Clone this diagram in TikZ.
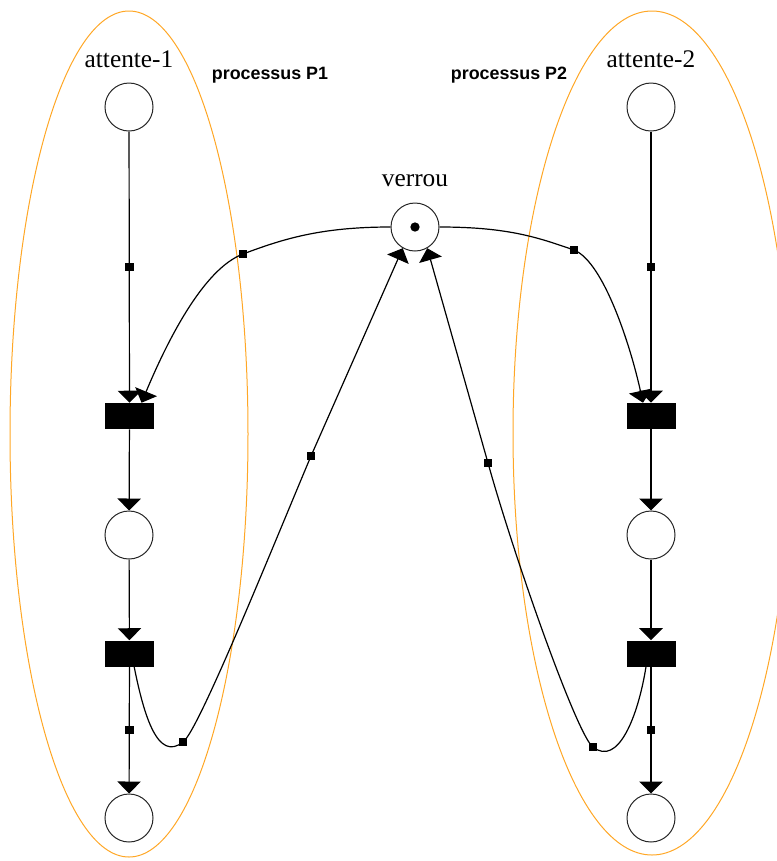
\documentclass[tikz,border=0pt]{standalone}
\usepackage{fontspec}
\setmainfont{Liberation Serif}
\newfontfamily\procfont{Liberation Sans}
\usetikzlibrary{arrows.meta, positioning}
\usepackage{xcolor}
\definecolor{orng}{HTML}{FFA726}
\tikzset{
  place/.style = {circle, draw=black!85, line width=0.75pt,
                  minimum size=36pt, inner sep=0pt},
  trans/.style = {rectangle, fill=black, minimum width=36.75pt,
                  minimum height=19.5pt, inner sep=0pt},
  tok/.style   = {circle, fill=black, minimum size=7pt, inner sep=0pt},
  hnd/.style   = {rectangle, fill=black, minimum size=6.5pt, inner sep=0pt},
  flow/.style  = {-{Triangle[width=17.5pt, length=9pt]}, line width=0.9pt},
  lbl/.style   = {font=\fontsize{19}{21}\selectfont, anchor=base, inner sep=0pt},
  proc/.style  = {font=\procfont\bfseries\fontsize{13.4}{15}\selectfont,
                  anchor=base, inner sep=0pt},
  zone/.style  = {draw=orng, line width=0.75pt},
}

\begin{document}
\begin{tikzpicture}[x=0.75pt, y=-0.75pt]

  \useasboundingbox (0,0) rectangle (777,861);
  \clip (0,0) rectangle (777,861);

  % ── process zones
  \draw[zone] (129,434) ellipse [x radius=119, y radius=423];
  \draw[zone] (652,433) ellipse [x radius=139, y radius=422];

  % ── process P1
  \node[place] (p1) at (129,107) {};
  \node[trans] (t1) at (129.5,416) {};
  \node[place] (p2) at (129,535) {};
  \node[trans] (t2) at (129.5,653.5) {};
  \node[place] (p3) at (129,818) {};

  % ── process P2
  \node[place] (q1) at (651,107) {};
  \node[trans] (t3) at (651,416) {};
  \node[place] (q2) at (651,535) {};
  \node[trans] (t4) at (651,653.5) {};
  \node[place] (q3) at (651,818) {};

  % ── shared lock
  \node[place] (v) at (415,227) {};
  \node[tok] (vtok) at (v.center) {};

  % ── labels
  \node[lbl]  (lp1) at (129,67) {attente-1};
  \node[lbl]  (lq1) at (651,67) {attente-2};
  \node[lbl]  (lv)  at (415,186) {verrou};
  \node[proc] (pr1) at (270,79) {processus P1};
  \node[proc] (pr2) at (509,79) {processus P2};

  % ── arc handles
  \node[hnd] (h3) at (243,254) {};
  \node[hnd] (h4) at (574,250) {};
  \node[hnd] (h5) at (183,742) {};
  \node[hnd] (h6) at (593,747) {};
  \node[hnd] (h7) at (311,456) {};
  \node[hnd] (h8) at (488,463) {};

  % ── arcs inside each process
  \draw[flow] (p1) -- node[hnd] (h1) {} (t1);
  \draw[flow] (t1) -- (p2);
  \draw[flow] (p2) -- (t2);
  \draw[flow] (t2) -- node[hnd] (h2) {} (p3);
  \draw[flow] (q1) -- node[hnd] (k1) {} (t3);
  \draw[flow] (t3) -- (q2);
  \draw[flow] (q2) -- (t4);
  \draw[flow] (t4) -- node[hnd] (k2) {} (q3);

  % ── lock taken
  \draw[flow] (v.west) .. controls +(-70,0) and +(40,-15) .. (h3.center)
    .. controls +(-40,15) and +(25,-60) .. ([xshift=9pt]t1.north);
  \draw[flow] (v.east) .. controls +(70,0) and +(-35,-12) .. (h4.center)
    .. controls +(30,12) and +(-12,-55) .. ([xshift=-6pt]t3.north);

  % ── lock released
  \draw[flow] ([xshift=3.5pt]t2.south) .. controls +(10,50) and +(-25,20) .. (h5.center)
    .. controls +(15,-10) and +(-40,95) .. (h7.center) -- (v.240);
  \draw[flow] ([xshift=-3.75pt]t4.south) .. controls +(-8,50) and +(25,20) .. (h6.center)
    .. controls +(-15,-10) and +(28,100) .. (h8.center) -- (v.300);

\end{tikzpicture}
\end{document}
